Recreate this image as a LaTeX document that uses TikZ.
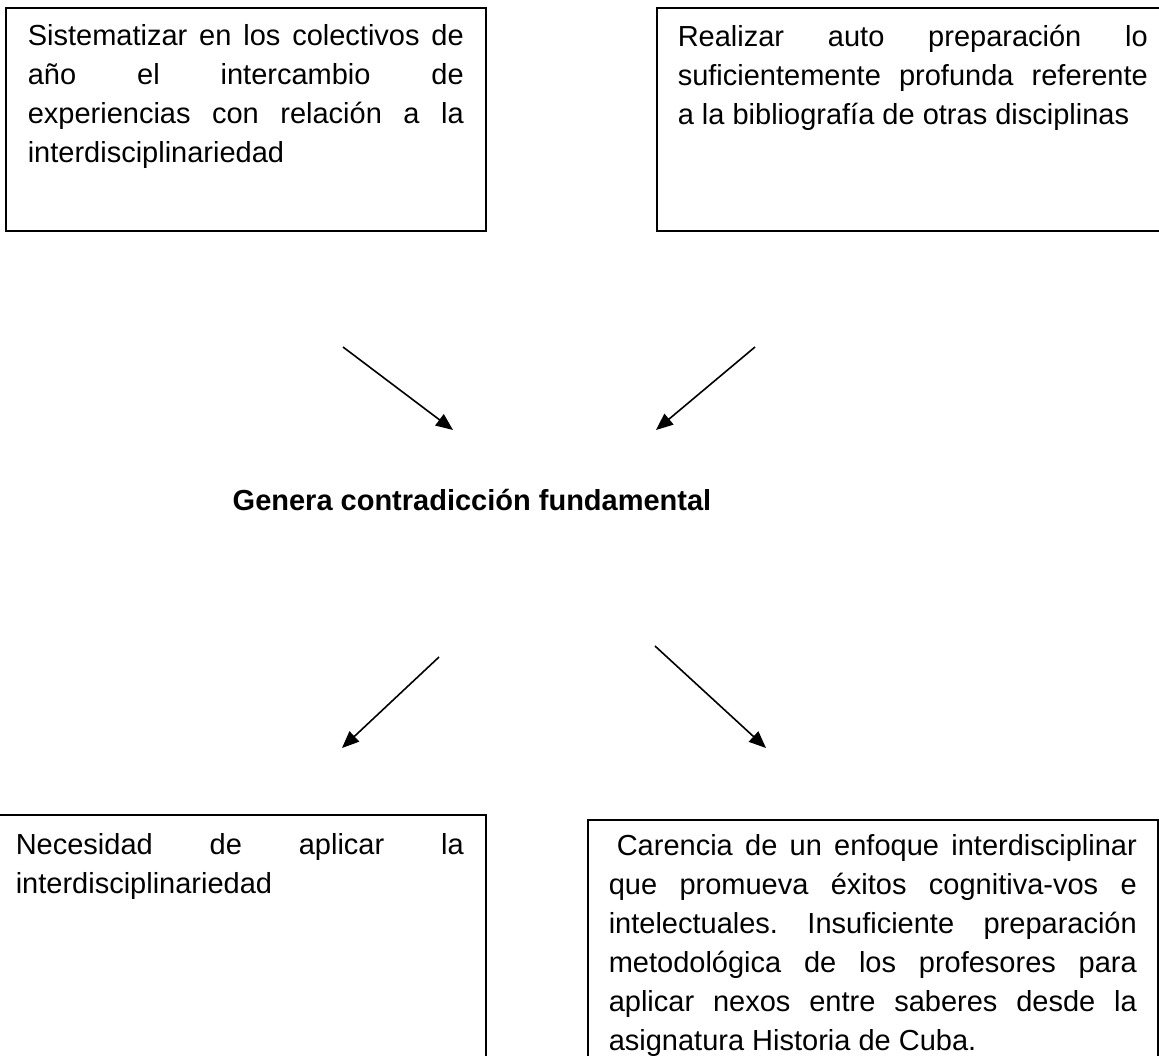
\documentclass[tikz,border=0pt]{standalone}
\usepackage{fontspec}
\setmainfont{Liberation Sans}
\usetikzlibrary{arrows.meta}
\tolerance=10000
\hyphenpenalty=10000
\exhyphenpenalty=10000
\frenchspacing

\tikzset{
	caja/.style={draw, black, line width=1.6pt, anchor=north west, align=justify, inner xsep=21pt, font=\fontsize{29}{39}\selectfont},
	flecha/.style={-{Triangle[length=17pt, width=14pt]}, black, line width=1.6pt},
}

\begin{document}
\begin{tikzpicture}[x=1pt, y=-1pt]
		\useasboundingbox	(0, 0) rectangle (1159, 1055);

		\node[caja, inner xsep=22pt, inner ysep=17pt, text width=436pt, text depth=168pt] (sistematizar) at (5, 7)
			{Sistematizar en los colectivos de\linebreak año el intercambio de\linebreak experiencias con relación a la\linebreak interdisciplinariedad};
		\node[caja, inner ysep=17pt, text width=470pt, text depth=168pt] (realizar) at (656, 7)
			{Realizar auto preparación lo\linebreak suficientemente profunda referente\linebreak a la bibliografía de otras disciplinas};

		\node[font=\fontsize{29}{39}\selectfont\bfseries] (genera) at (472, 500) {Genera contradicción fundamental};

		\node[caja, inner xsep=22pt, inner ysep=19pt, text width=448pt, text depth=300pt] (necesidad) at (-7, 814)
			{Necesidad de aplicar la\linebreak interdisciplinariedad};
		\node[caja, inner ysep=15pt, text width=528pt, text depth=300pt] (carencia) at (587, 819)
			{\hspace*{8pt}Carencia de un enfoque interdisciplinar\linebreak que promueva éxitos cognitiva-vos e\linebreak intelectuales. Insuficiente preparación\linebreak metodológica de los profesores para\linebreak aplicar nexos entre saberes desde la\linebreak asignatura Historia de Cuba.};

		\coordinate (s1) at (343, 347);
		\coordinate (e1) at (453, 430);
		\coordinate (s2) at (755, 347);
		\coordinate (e2) at (656, 430);
		\coordinate (s3) at (439, 657);
		\coordinate (e3) at (342, 748);
		\coordinate (s4) at (655, 646);
		\coordinate (e4) at (766, 748);

		\draw[flecha]	(s1) to (e1);
		\draw[flecha]	(s2) to (e2);
		\draw[flecha]	(s3) to (e3);
		\draw[flecha]	(s4) to (e4);
	\end{tikzpicture}
\end{document}
